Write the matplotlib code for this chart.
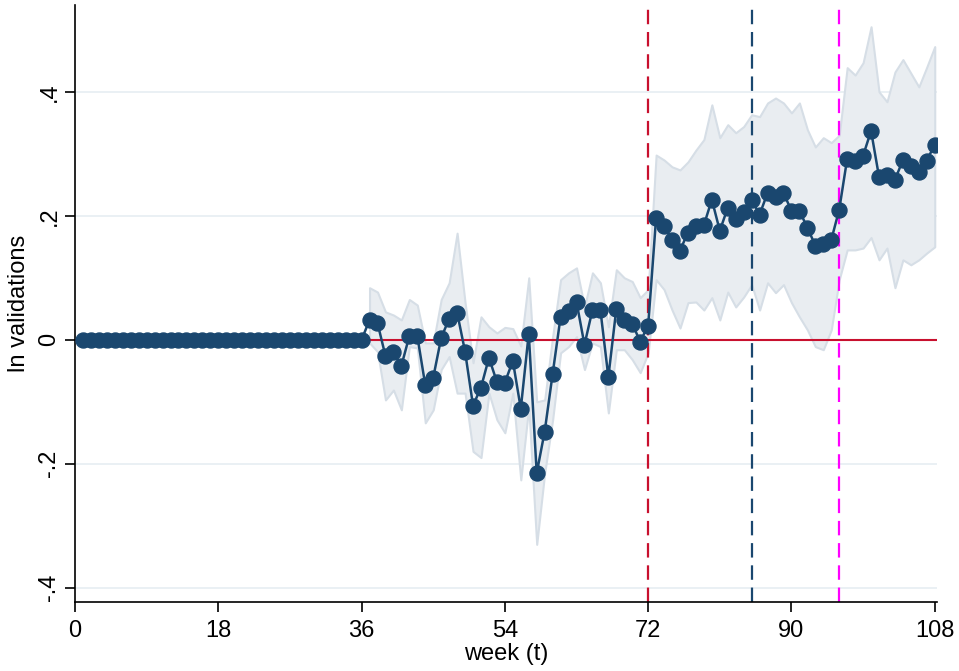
import numpy as np
import matplotlib
matplotlib.use('Agg')
import matplotlib.pyplot as plt

plt.rcParams['font.family'] = ['Liberation Sans', 'DejaVu Sans']

# weeks 1..36 are the reference period (coef = 0)
weeks_pre = list(range(1, 37))
coef_pre = [0.0] * 36

weeks = list(range(37, 109))
coef = [0.032, 0.027, -0.026, -0.019, -0.042, 0.006, 0.006, -0.073, -0.061, 0.003,
        0.034, 0.044, -0.019, -0.106, -0.077, -0.029, -0.068, -0.069, -0.034, -0.111,
        0.010, -0.215, -0.148, -0.055, 0.037, 0.047, 0.061, -0.008, 0.048, 0.048,
        -0.060, 0.050, 0.032, 0.026, -0.003, 0.023, 0.197, 0.184, 0.161, 0.144,
        0.173, 0.184, 0.185, 0.226, 0.176, 0.213, 0.195, 0.206, 0.226, 0.202,
        0.237, 0.231, 0.237, 0.208, 0.208, 0.181, 0.152, 0.155, 0.161, 0.210,
        0.292, 0.289, 0.297, 0.337, 0.263, 0.266, 0.258, 0.290, 0.281, 0.271,
        0.289, 0.315]
upper = [0.084, 0.077, 0.045, 0.040, 0.032, 0.065, 0.056, -0.005, -0.005, 0.065,
         0.092, 0.172, 0.060, -0.037, 0.037, 0.021, 0.011, 0.020, 0.018, -0.010,
         0.100, -0.100, -0.097, 0.005, 0.097, 0.108, 0.116, 0.053, 0.108, 0.092,
         0.021, 0.113, 0.100, 0.094, 0.068, 0.081, 0.298, 0.290, 0.279, 0.274,
         0.287, 0.306, 0.323, 0.379, 0.326, 0.347, 0.334, 0.344, 0.363, 0.360,
         0.382, 0.390, 0.382, 0.366, 0.382, 0.339, 0.311, 0.326, 0.318, 0.330,
         0.439, 0.427, 0.447, 0.505, 0.400, 0.384, 0.432, 0.452, 0.430, 0.408,
         0.440, 0.473]
lower = [-0.005, -0.019, -0.097, -0.081, -0.113, -0.011, -0.013, -0.134, -0.113, -0.048,
         -0.027, -0.086, -0.086, -0.180, -0.190, -0.086, -0.129, -0.150, -0.086, -0.226,
         -0.108, -0.330, -0.215, -0.129, -0.021, -0.011, 0.005, -0.048, -0.005, -0.011,
         -0.118, -0.016, -0.016, -0.032, -0.053, -0.021, 0.097, 0.081, 0.048, 0.019,
         0.060, 0.061, 0.048, 0.068, 0.032, 0.077, 0.053, 0.069, 0.089, 0.048,
         0.092, 0.076, 0.089, 0.060, 0.037, 0.016, -0.011, -0.016, 0.016, 0.097,
         0.145, 0.145, 0.148, 0.165, 0.129, 0.148, 0.084, 0.129, 0.121, 0.129,
         0.140, 0.150]

events = [72, 85, 96]
event_colors = ['#c8102e', '#1a476f', '#ff00ff']
xticks = [0, 18, 36, 54, 72, 90, 108]
yticks = [-0.4, -0.2, 0, 0.2, 0.4]
ytick_labels = ['-.4', '-.2', '0', '.2', '.4']

navy = '#1a476f'

fig = plt.figure(figsize=(9.59, 6.71), dpi=100)
ax = fig.add_axes([0.0782, 0.1028, 0.899, 0.8897])

for yv in [-0.4, -0.2, 0.2, 0.4]:
    ax.axhline(yv, color='#e6edf2', lw=1.2, zorder=0)

ax.fill_between(weeks, lower, upper, facecolor='#e9edf1', edgecolor='#d6dee6',
                lw=1.5, zorder=1)

ax.axhline(0, color='#c8102e', lw=1.5, zorder=2)
for xv, c in zip(events, event_colors):
    ax.axvline(xv, color=c, lw=1.6, ls=(0, (6.5, 3.5)), zorder=2)

all_w = weeks_pre + weeks
all_c = coef_pre + coef
ax.plot(all_w, all_c, color=navy, lw=1.8, marker='o', ms=10.8,
        markerfacecolor=navy, markeredgecolor=navy, zorder=3)

ax.set_xlim(0, 108.3)
ax.set_ylim(-0.423, 0.540)
ax.set_xticks(xticks)
ax.set_yticks(yticks)
ax.set_yticklabels(ytick_labels, rotation=90, va='center')
ax.tick_params(axis='both', labelsize=17, length=7, width=1.2, direction='out')
ax.tick_params(axis='x', pad=6)
ax.set_xlabel('week (t)', fontsize=17, labelpad=1)
ax.set_ylabel('ln validations', fontsize=17, labelpad=6)

for s in ['top', 'right']:
    ax.spines[s].set_visible(False)
for s in ['left', 'bottom']:
    ax.spines[s].set_linewidth(1.2)

fig.savefig('out.png', dpi=100)
